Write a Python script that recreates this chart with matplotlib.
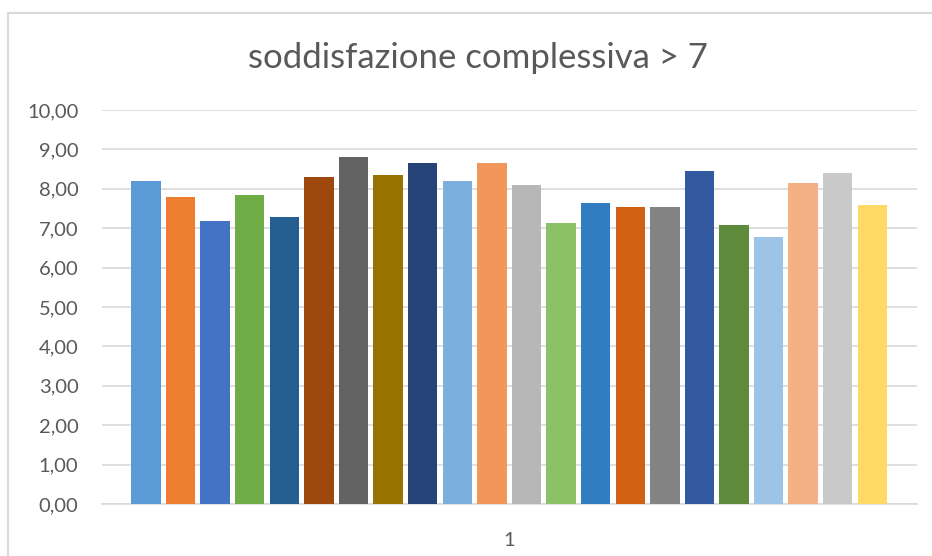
import matplotlib.pyplot as plt
import numpy as np
from matplotlib.patches import Rectangle
from matplotlib.ticker import FuncFormatter

# valori (una barra per serie)
values = [8.19, 7.78, 7.18, 7.83, 7.28, 8.29, 8.80, 8.34, 8.65, 8.19, 8.65,
          8.09, 7.13, 7.63, 7.53, 7.53, 8.45, 7.08, 6.78, 8.14, 8.39, 7.58]
colors = ["#5B9BD5", "#ED7D31", "#4472C4", "#70AD47", "#255E91", "#9E480E",
          "#636363", "#997300", "#264478", "#7CAFDD", "#F1975A", "#B7B7B7",
          "#8CC168", "#327DC2", "#D26012", "#848484", "#335AA1", "#5E8B3B",
          "#9DC3E6", "#F4B183", "#C9C9C9", "#FFD966"]
category = "1"
title = "soddisfazione complessiva > 7"

def comma_format(x, pos):
    return f"{x:.2f}".replace(".", ",")

plt.rcParams['font.family'] = ['Lato', 'DejaVu Sans']

fig = plt.figure(figsize=(9.32, 5.56), dpi=100)
ax = fig.add_axes([102/932, 1 - 504/556, (917 - 102)/932, (504 - 110)/556])

x = np.arange(len(values))
bar_w = 0.85
ax.bar(x, values, bar_w, color=colors, zorder=3)

ax.set_ylim(0, 10)
ax.set_yticks(np.arange(0, 11, 1))
ax.yaxis.set_major_formatter(FuncFormatter(comma_format))
ax.set_xlim(-1.27, len(values) - 1 + 1.29)
ax.set_xticks([(len(values) - 1) / 2])
ax.set_xticklabels([category])

ax.grid(axis="y", color="#D9D9D9", linewidth=1.2, zorder=0)
for s in ["top", "right", "left"]:
    ax.spines[s].set_visible(False)
ax.spines["bottom"].set_color("#D9D9D9")
ax.spines["bottom"].set_linewidth(1.2)
ax.tick_params(axis="y", length=0, pad=17, labelsize=14.5, labelcolor="#595959")
ax.tick_params(axis="x", length=0, pad=20, labelsize=14.5, labelcolor="#595959")

fig.text(0.513, 1 - 58/556, title, ha="center", va="center",
         fontsize=25, color="#595959")

# cornice dell'area del grafico
fig.patches.append(Rectangle((8/932, -0.1), 1.2, 1.1 - 13/556,
                             transform=fig.transFigure, fill=False,
                             edgecolor="#D9D9D9", linewidth=1.5))

fig.savefig("out.png", dpi=100)
